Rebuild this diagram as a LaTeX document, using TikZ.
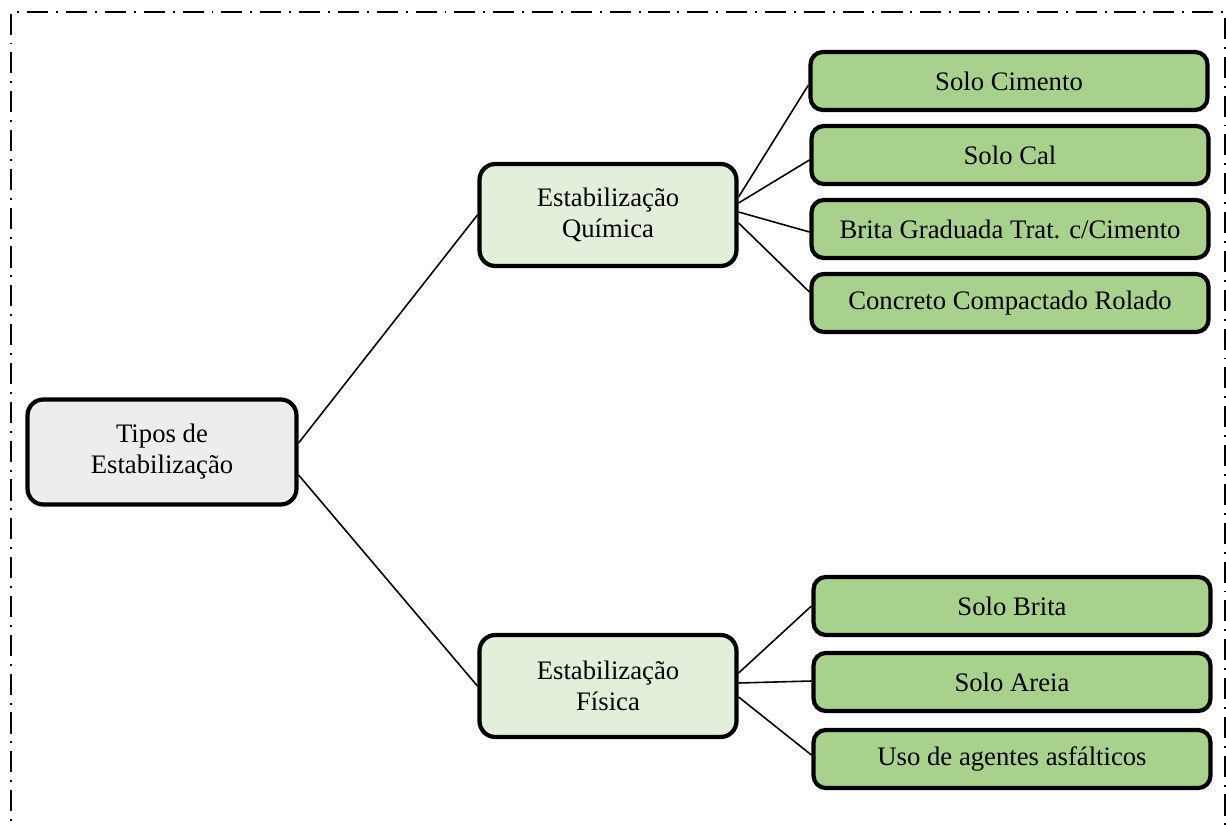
\documentclass[tikz,border=0pt]{standalone}
\usepackage{fontspec}
\setmainfont{Liberation Serif}
\definecolor{rootgray}{HTML}{EDEDED}
\definecolor{palegreen}{HTML}{E2EFDA}
\definecolor{leafgreen}{HTML}{A9D18E}
\tikzset{
	rootbox/.style={draw, line width=2.4pt, rounded corners=9pt, fill=rootgray, minimum width=5.38cm, minimum height=2.1cm, align=center},
	groupbox/.style={draw, line width=2.4pt, rounded corners=9pt, fill=palegreen, minimum width=5.14cm, minimum height=2.04cm, align=center},
	leafbox/.style={draw, line width=2.4pt, rounded corners=7pt, fill=leafgreen, minimum width=7.94cm, minimum height=1.16cm, align=center},
	branch/.style={line width=0.9pt}
}

\begin{document}
\begin{tikzpicture}[x=0.02cm, y=-0.02cm, font=\fontsize{15.2}{17.6}\selectfont]
				\useasboundingbox (0,0) rectangle (1226,827);
				% frame, its bottom edge is cut off
				\draw[line width=1.1pt, dash pattern=on 12pt off 4.5pt on 1.1pt off 4.5pt] (11,850) -- (11,12) -- (1225,12) -- (1225,850);
				
				\node[rootbox] (Tipos) at (162,452) {Tipos de\\Estabilização};
				\node[groupbox] (Quimica) at (608,215) {Estabilização\\Química};
				\node[groupbox] (Fisica) at (608,686) {Estabilização\\Física};
				
				\node[leafbox] (Cimento) at (1009,81) {Solo Cimento};
				\node[leafbox] (Cal) at (1010,155) {Solo Cal};
				\node[leafbox] (BGTC) at (1010,229) {Brita Graduada Trat. c/Cimento};
				\node[leafbox] (CCR) at (1010,303) {Concreto Compactado Rolado};
				
				\node[leafbox] (Brita) at (1012,606) {Solo Brita};
				\node[leafbox] (Areia) at (1012,682) {Solo Areia};
				\node[leafbox] (Asfalto) at (1012,759) {Uso de agentes asfálticos};
				
				\draw[branch] ([yshift=0.18cm]Tipos.east) -- (Quimica.west);
				\draw[branch] ([yshift=-0.46cm]Tipos.east) -- (Fisica.west);
				
				\draw[branch] ([yshift=0.36cm]Quimica.east) -- ([yshift=-0.08cm]Cimento.west);
				\draw[branch] ([yshift=0.24cm]Quimica.east) -- ([yshift=-0.1cm]Cal.west);
				\draw[branch] ([yshift=0.06cm]Quimica.east) -- ([yshift=-0.06cm]BGTC.west);
				\draw[branch] ([yshift=-0.16cm]Quimica.east) -- ([yshift=0.22cm]CCR.west);
				
				\draw[branch] ([yshift=0.26cm]Fisica.east) -- ([yshift=0cm]Brita.west);
				\draw[branch] ([yshift=0.06cm]Fisica.east) -- ([yshift=0.02cm]Areia.west);
				\draw[branch] ([yshift=-0.22cm]Fisica.east) -- ([yshift=0.08cm]Asfalto.west);
				
			\end{tikzpicture}
\end{document}
